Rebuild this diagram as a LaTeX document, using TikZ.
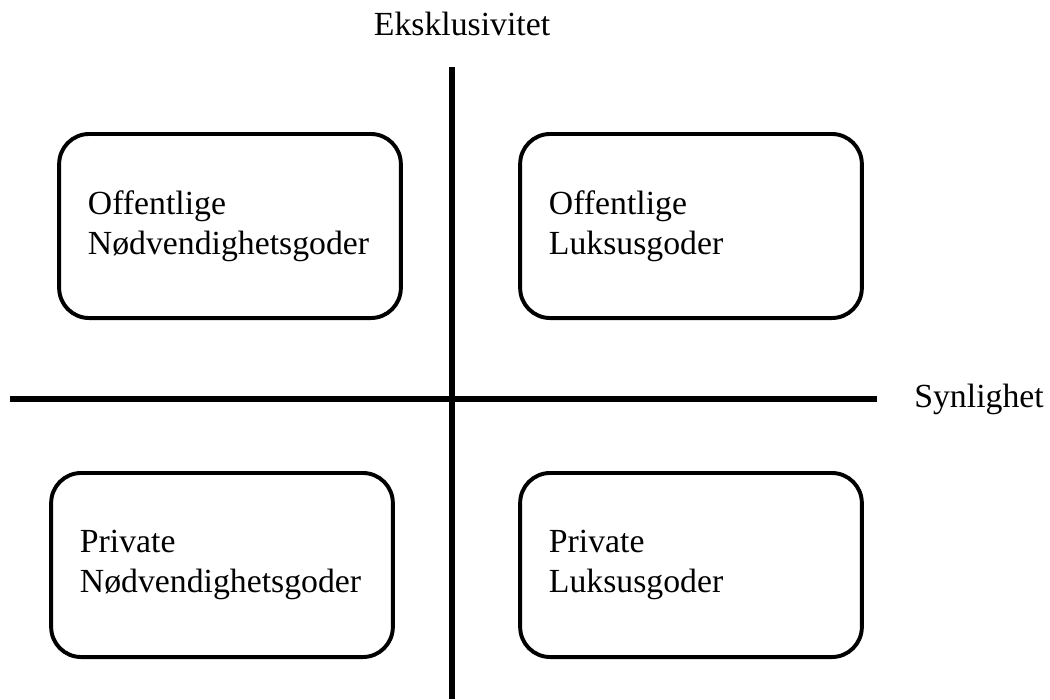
\documentclass[tikz,border=0pt]{standalone}
\usepackage{fontspec}
\setmainfont{Liberation Serif}
\usetikzlibrary{positioning}

\begin{document}
\begin{tikzpicture}[
    x=0.025cm,
    y=-0.025cm,
    font=\fontsize{24}{28.5}\selectfont,
    goods/.style={
		rectangle,
		rounded corners=0.75cm,
		draw=black,
		line width=2.8pt,
		align=left,
		text width=7.1cm,
		inner xsep=0.72cm,
		minimum height=4.6cm
	},
	axis/.style={
		line width=3.6pt
	},
	axislabel/.style={
		inner sep=0pt
	}
  ]
  \useasboundingbox (0,0) rectangle (1050,699);

    % We start by placing the blocks
  \node [goods] (offnod) at (230,226) {Offentlige\\Nødvendighetsgoder};
  \node [goods] (offluks) at (691,226) {Offentlige\\Luksusgoder};
  \node [goods] (privnod) at (222,565) {Private\\Nødvendighetsgoder};
  \node [goods] (privluks) at (691,565) {Private\\Luksusgoder};

  % axes
  \coordinate (top) at (452,67);
  \coordinate (bottom) at (452,699);
  \coordinate (left) at (10,399);
  \coordinate (right) at (877,399);

  \draw [axis] (top) -- (bottom);
  \draw [axis] (left) -- (right);

  \node [axislabel, anchor=base] (ekskl) at (462,35) {Eksklusivitet};
  \node [axislabel, anchor=base east] (synl) at (1044,407) {Synlighet};

\end{tikzpicture}
\end{document}
